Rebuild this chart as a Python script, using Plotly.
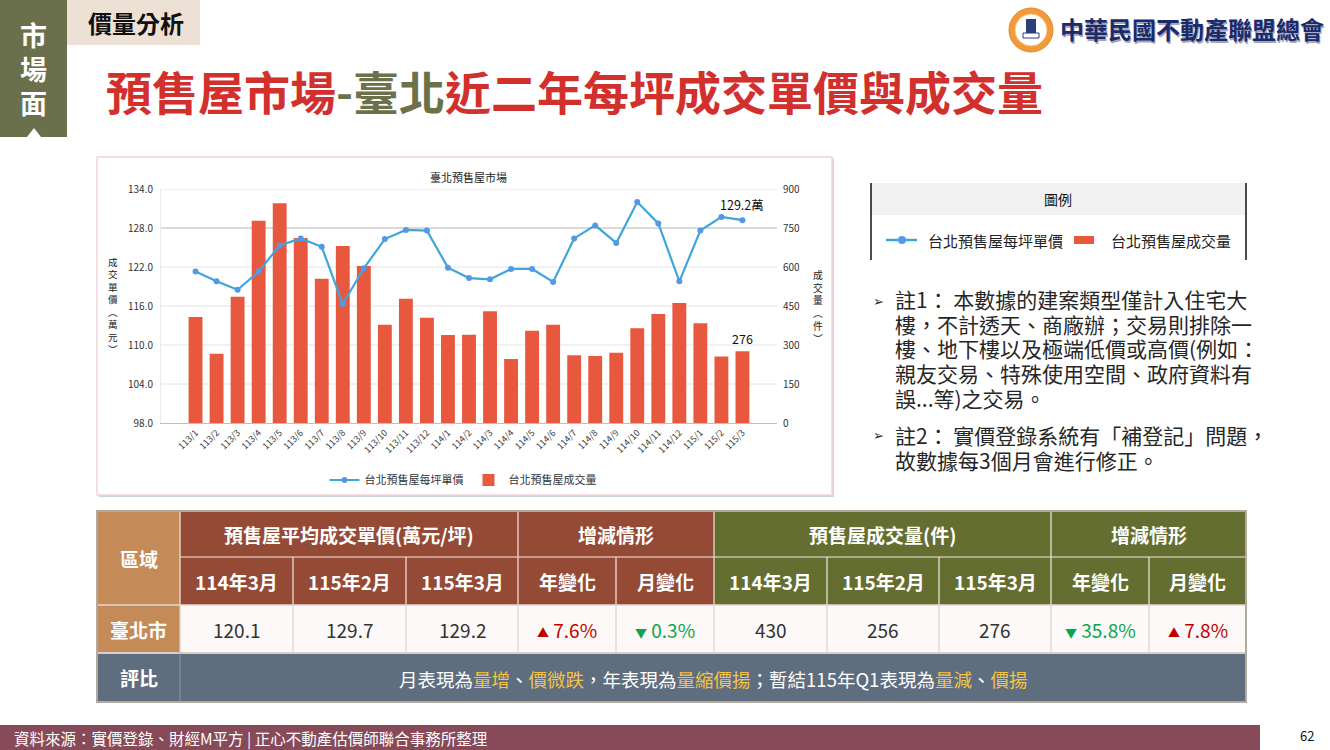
import plotly.graph_objects as go

W, H = 1330, 750
FONT = "Noto Sans CJK TC"

# ---------------- data ----------------
months = ["113/1", "113/2", "113/3", "113/4", "113/5", "113/6", "113/7", "113/8", "113/9",
          "113/10", "113/11", "113/12", "114/1", "114/2", "114/3", "114/4", "114/5", "114/6",
          "114/7", "114/8", "114/9", "114/10", "114/11", "114/12", "115/1", "115/2", "115/3"]
price = [121.3, 119.8, 118.5, 121.3, 125.3, 126.4, 125.1, 116.3, 121.8, 126.3, 127.7, 127.6,
         121.9, 120.3, 120.1, 121.7, 121.7, 119.7, 126.4, 128.4, 125.7, 132.0, 128.7, 119.8,
         127.6, 129.7, 129.2]
volume = [408, 266, 486, 778, 845, 712, 555, 681, 604, 378, 478, 405,
          338, 339, 430, 246, 355, 378, 261, 258, 270, 364, 419, 462,
          384, 256, 276]

price_name = "台北預售屋每坪單價"
volume_name = "台北預售屋成交量"
chart_title = "臺北預售屋市場"
left_title = "成交單價︵萬元︶"
right_title = "成交量︵件︶"
volume_ticks = [0, 150, 300, 450, 600, 750, 900]
price_ticks = [98, 104, 110, 116, 122, 128, 134]

table_periods = ["114年3月", "115年2月", "115年3月"]
table_price = ["120.1", "129.7", "129.2"]
table_price_change = [("▲", "7.6%", "up"), ("▼", "0.3%", "down")]
table_volume = ["430", "256", "276"]
table_volume_change = [("▼", "35.8%", "down"), ("▲", "7.8%", "up")]
change_heads = ["年變化", "月變化"]

notes1 = ["註1： 本數據的建案類型僅計入住宅大", "樓，不計透天、商廠辦；交易則排除一",
          "樓、地下樓以及極端低價或高價(例如：", "親友交易、特殊使用空間、政府資料有", "誤...等)之交易。"]
notes2 = ["註2： 實價登錄系統有「補登記」問題，", "故數據每3個月會進行修正。"]

# ---------------- colours ----------------
BAR = "#E8583F"
LINE = "#3EA6DA"
MARK = "#5598E6"
TAN = "#C48A57"
BROWN = "#944A35"
OLIVE = "#646E30"
SLATE = "#5E6E7F"
RED_T = "#D1302D"
OLIVE_T = "#6B7148"
YEL = "#F5C343"
UP = "#C00000"
DOWN = "#0AA54F"


def px(x):
    return x / W


def py(y):
    return 1 - y / H


shapes = []
ann = []


def rect(x0, y0, x1, y1, fill, line=None, lw=0, layer="above"):
    shapes.append(dict(type="rect", xref="paper", yref="paper", x0=px(x0), x1=px(x1),
                       y0=py(y1), y1=py(y0), fillcolor=fill,
                       line=dict(color=line or fill, width=lw), layer=layer))


def seg(x0, y0, x1, y1, color, w=1, layer="above"):
    shapes.append(dict(type="line", xref="paper", yref="paper", x0=px(x0), x1=px(x1),
                       y0=py(y0), y1=py(y1), line=dict(color=color, width=w), layer=layer))


def txt(x, y, t, size, color="#000", bold=False, xanchor="center", yanchor="middle",
        align="center"):
    if bold:
        t = f"<b>{t}</b>"
    ann.append(dict(xref="paper", yref="paper", x=px(x), y=py(y), text=t, showarrow=False,
                    xanchor=xanchor, yanchor=yanchor, align=align,
                    font=dict(size=size, color=color, family=FONT)))


# ---------------- slide header ----------------
rect(0, 0, 67, 137, "#6A704B")
for ch, yy in zip("市場面", [35, 69, 102]):
    txt(33.5, yy, ch, 27, "#FFFFFF", bold=True)
shapes.append(dict(type="path", xref="paper", yref="paper",
                   path=f"M {px(27)},{py(137)} L {px(34)},{py(128)} L {px(41)},{py(137)} Z",
                   fillcolor="#FFFFFF", line=dict(width=0)))
rect(67, 0, 200, 45, "#EDE1D5")
txt(136, 23, "價量分析", 24, "#111111", bold=True)

title = (f"<span style='color:{RED_T}'>預售屋市場</span><span style='color:{OLIVE_T}'>-臺北</span>"
         f"<span style='color:{RED_T}'>近二年每坪成交單價與成交量</span>")
txt(104, 90, title, 46, RED_T, bold=True, xanchor="left")

# logo
shapes.append(dict(type="circle", xref="paper", yref="paper", x0=px(1009), x1=px(1053),
                   y0=py(52), y1=py(8), fillcolor="#F29A38", line=dict(color="#E08A28", width=1)))
shapes.append(dict(type="circle", xref="paper", yref="paper", x0=px(1015), x1=px(1047),
                   y0=py(46), y1=py(14), fillcolor="#FFFFFF", line=dict(color="#F5C58A", width=1)))
rect(1026, 19, 1036, 33, "#2B3E7E")
rect(1023, 33, 1039, 38, "#FFFFFF", line="#2B3E7E", lw=1)
txt(1193, 30, "中華民國不動產聯盟總會", 24, "#A0A6BC", bold=True)
txt(1191.5, 28.5, "中華民國不動產聯盟總會", 24, "#1B2A6B", bold=True)

# ---------------- chart box ----------------
rect(99, 159, 834, 497, "#D4D4D4", layer="below")
rect(97, 157, 832, 495, "#FFFFFF", line="#F0D5DA", lw=1.5, layer="below")
for v in volume_ticks[1:]:
    shapes.append(dict(type="line", xref="x domain", yref="y", x0=0, x1=1, y0=v, y1=v,
                       line=dict(color="#B5B5B5" if v == 750 else "#E4E4E4",
                                 width=1.2 if v == 750 else 1),
                       layer="below"))
txt(468, 177, chart_title, 11, "#222222")
txt(113, 306, "<br>".join(left_title), 9.6, "#222222")
txt(818, 307, "<br>".join(right_title), 9.8, "#222222")

# ---------------- legend box on the right ----------------
rect(871, 183, 1246, 215, "#F2F2F2")
seg(871, 183, 871, 260, "#111111", 1.5)
seg(1246, 183, 1246, 260, "#111111", 1.5)
txt(1058, 199, "圖例", 14, "#111111")
seg(886, 240, 917, 240, LINE, 2.5)
shapes.append(dict(type="circle", xref="paper", yref="paper", x0=px(898), x1=px(906),
                   y0=py(244), y1=py(236), fillcolor=MARK, line=dict(width=0)))
txt(926, 240, price_name, 15, "#222222", xanchor="left")
rect(1074, 236, 1094, 244, BAR)
txt(1109, 240, volume_name, 15, "#222222", xanchor="left")

# ---------------- notes (base size sets line spacing, inner span sets glyph size) ----------------
p1 = "<span style='font-size:21px'>" + "<br>".join(notes1) + "</span>"
p1 = "<br>".join(f"<span style='font-size:21px'>{s}</span>" for s in notes1)
p2 = "<br>".join(f"<span style='font-size:21px'>{s}</span>" for s in notes2)
txt(893, 348.5, p1, 19, "#262626", xanchor="left", align="left")
txt(893, 447, p2, 19, "#262626", xanchor="left", align="left")
txt(878, 300, "➢", 13, "#262626")
txt(878, 435, "➢", 13, "#262626")

# ---------------- table ----------------
cols = [97, 180, 293, 406, 518, 616, 714, 827, 939, 1051, 1149, 1246]
rows = [511, 557, 605, 653, 702]
rect(cols[0], rows[0], cols[1], rows[2], TAN)
rect(cols[1], rows[0], cols[6], rows[2], BROWN)
rect(cols[6], rows[0], cols[11], rows[2], OLIVE)
rect(cols[0], rows[2], cols[1], rows[3], TAN)
rect(cols[1], rows[2], cols[11], rows[3], "#FCF9F8")
rect(cols[0], rows[3], cols[11], rows[4], SLATE)
for c in [cols[1], cols[4], cols[6], cols[9]]:
    seg(c, rows[0], c, rows[2], "#F3E9E2", 1.2)
for c in [cols[2], cols[3], cols[5], cols[7], cols[8], cols[10]]:
    seg(c, rows[1], c, rows[2], "#F3E9E2", 1.2)
seg(cols[1], rows[1], cols[11], rows[1], "#F3E9E2", 1.2)
seg(cols[0], rows[2], cols[11], rows[2], "#E3D8D0", 1.5)
for c in cols[1:-1]:
    seg(c, rows[2], c, rows[3], "#DDD3CC", 1.2)
seg(cols[0], rows[3], cols[11], rows[3], "#D8CEC7", 2)
seg(cols[1], rows[3], cols[1], rows[4], "#8C99A6", 1)
rect(cols[0], rows[0], cols[11], rows[4], "rgba(0,0,0,0)", line="#B4A99F", lw=2)


def mid(a, b):
    return (a + b) / 2


r1, r2, r3, r4 = [mid(rows[i], rows[i + 1]) for i in range(4)]
HS = 19
txt(mid(cols[0], cols[1]), mid(rows[0], rows[2]), "區域", HS, "#FFFFFF", bold=True)
txt(mid(cols[1], cols[4]), r1, "預售屋平均成交單價(萬元/坪)", HS, "#FFFFFF", bold=True)
txt(mid(cols[4], cols[6]), r1, "增減情形", HS, "#FFFFFF", bold=True)
txt(mid(cols[6], cols[9]), r1, "預售屋成交量(件)", HS, "#FFFFFF", bold=True)
txt(mid(cols[9], cols[11]), r1, "增減情形", HS, "#FFFFFF", bold=True)
for k in range(3):
    txt(mid(cols[1 + k], cols[2 + k]), r2, table_periods[k], HS, "#FFFFFF", bold=True)
    txt(mid(cols[6 + k], cols[7 + k]), r2, table_periods[k], HS, "#FFFFFF", bold=True)
    txt(mid(cols[1 + k], cols[2 + k]), r3, table_price[k], 19, "#333333")
    txt(mid(cols[6 + k], cols[7 + k]), r3, table_volume[k], 19, "#333333")
for k in range(2):
    txt(mid(cols[4 + k], cols[5 + k]), r2, change_heads[k], HS, "#FFFFFF", bold=True)
    txt(mid(cols[9 + k], cols[10 + k]), r2, change_heads[k], HS, "#FFFFFF", bold=True)
    for base, data in [(4, table_price_change), (9, table_volume_change)]:
        arrow, val, d = data[k]
        col = UP if d == "up" else DOWN
        txt(mid(cols[base + k], cols[base + 1 + k]), r3,
            f"<span style='font-size:12px'>{arrow}</span> {val}", 19, col)
txt(mid(cols[0], cols[1]), r3, "臺北市", HS, "#FFFFFF", bold=True)
txt(mid(cols[0], cols[1]), r4, "評比", HS, "#FFFFFF", bold=True)


def hl(s):
    return f"<span style='color:{YEL}'>{s}</span>"


summary = (f"月表現為{hl('量增')}、{hl('價微跌')}，年表現為{hl('量縮價揚')}；"
           f"暫結115年Q1表現為{hl('量減')}、{hl('價揚')}")
txt(mid(cols[1], cols[11]), r4 + 1, summary, 18.5, "#FFFFFF")

# ---------------- footer ----------------
rect(0, 725, 1260, 750, "#874A58")
txt(12, 738, "資料來源：實價登錄、財經M平方 | 正心不動產估價師聯合事務所整理", 15.5, "#FFFFFF",
    xanchor="left")
txt(1307, 735, "62", 13, "#111111")

# ---------------- chart ----------------
fig = go.Figure()
fig.add_trace(go.Scatter(x=months, y=price, name=price_name, yaxis="y2",
                         mode="lines+markers", line=dict(color=LINE, width=2.2),
                         marker=dict(color=MARK, size=6)))
fig.add_trace(go.Bar(x=months, y=volume, name=volume_name, yaxis="y",
                     marker=dict(color=BAR, line=dict(width=0))))

ann.append(dict(xref="x", yref="y2", x=months[-1], y=price[-1], text=f"{price[-1]}萬",
                showarrow=False, yshift=16, font=dict(size=12.5, color="#111111", family=FONT)))
ann.append(dict(xref="x", yref="y", x=months[-1], y=volume[-1], text=str(volume[-1]),
                showarrow=False, yshift=13, font=dict(size=12.5, color="#111111", family=FONT)))

fig.update_layout(
    width=W, height=H,
    margin=dict(l=0, r=0, t=0, b=0, pad=0),
    paper_bgcolor="#FFFFFF", plot_bgcolor="rgba(0,0,0,0)",
    font=dict(family=FONT, color="#333333"),
    bargap=0.34,
    showlegend=True,
    legend=dict(orientation="h", x=px(463), xanchor="center", y=py(480), yanchor="middle",
                font=dict(size=11, color="#333333", family=FONT), bgcolor="rgba(0,0,0,0)",
                traceorder="normal"),
    xaxis=dict(domain=[px(161), px(777)], type="category", tickangle=-45,
               tickfont=dict(size=9, color="#404040"), showline=True, linecolor="#BFBFBF",
               linewidth=1, ticks="", showgrid=False, automargin=False),
    yaxis=dict(domain=[py(423), py(189)], range=[volume_ticks[0], volume_ticks[-1]],
               tickmode="array", tickvals=volume_ticks, side="right",
               showgrid=False, zeroline=False, ticklabelstandoff=5,
               tickfont=dict(size=10, color="#333333"), ticks="", automargin=False),
    yaxis2=dict(overlaying="y", side="left", range=[price_ticks[0], price_ticks[-1]],
                tickmode="array", tickvals=price_ticks, tickformat=".1f", ticklabelstandoff=5,
                showgrid=False, zeroline=False, showline=True, linecolor="#EAEAEA",
                tickfont=dict(size=10, color="#333333"), ticks="", automargin=False),
    shapes=shapes,
    annotations=ann,
)

fig.write_html("out.html", config={"displayModeBar": False},
               post_script="document.body.style.margin='0px';document.body.style.overflow='hidden';")
